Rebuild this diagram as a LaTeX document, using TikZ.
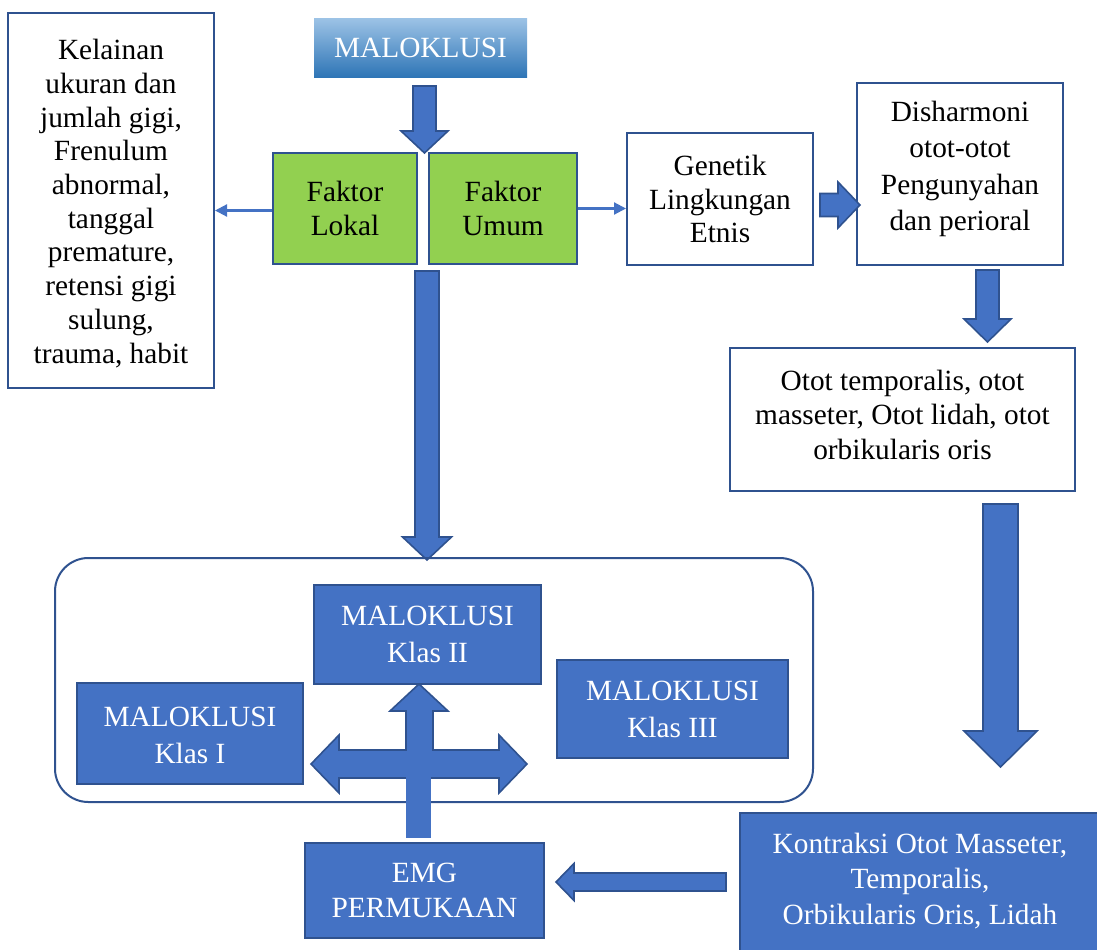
\documentclass[tikz,border=0pt]{standalone}
\usepackage{fontspec}
\setmainfont{Liberation Serif}
\usetikzlibrary{fit,arrows.meta}
\definecolor{bfill}{HTML}{4472C4}
\definecolor{bline}{HTML}{2F528F}
\definecolor{gfill}{HTML}{92D050}
\definecolor{gtop}{HTML}{9DC3E6}
\definecolor{gbot}{HTML}{2E75B6}
% vertical block arrow: x, ystart, ytip, shaft half, head half, head length (signed)
\newcommand\vblock[6]{\draw[barrow] (#1-#4,#2) -- (#1+#4,#2) -- (#1+#4,#3-#6) -- (#1+#5,#3-#6) -- (#1,#3) -- (#1-#5,#3-#6) -- (#1-#4,#3-#6) -- cycle;}
% horizontal block arrow: y, xstart, xtip, shaft half, head half, head length (signed)
\newcommand\hblock[6]{\draw[barrow] (#2,#1-#4) -- (#2,#1+#4) -- (#3-#6,#1+#4) -- (#3-#6,#1+#5) -- (#3,#1) -- (#3-#6,#1-#5) -- (#3-#6,#1-#4) -- cycle;}
\begin{document}
\begin{tikzpicture}[x=0.75pt,y=-0.75pt,
 shape box/.style={inner sep=0pt, line width=1.5pt},
 wbox/.style={shape box, draw=bline, fill=white},
 gbox/.style={shape box, draw=bline, fill=gfill},
 bbox/.style={shape box, draw=bline, fill=bfill},
 txt/.style={inner sep=0pt, align=center, font=\fontsize{22}{25.3}\selectfont},
 wtxt/.style={txt, text=white},
 barrow/.style={draw=bline, line width=1.2pt, fill=bfill, line join=miter},
 thinarrow/.style={draw=bfill, line width=1.6pt, -{Triangle[length=9pt,width=9pt]}}]
\useasboundingbox (0,0) rectangle (1097,950);

% top
\node[inner sep=0pt, top color=gtop, bottom color=gbot, fit={(314,18)(527,77)}] (mal) {};
\node[wtxt] (malt) at (mal.center) {MALOKLUSI};
\node[wbox, fit={(8,13)(214,388)}] (kel) {};
\node[txt, yshift=-2.2pt] (kelt) at (kel.center) {Kelainan\\ukuran dan\\jumlah gigi,\\Frenulum\\abnormal,\\tanggal\\premature,\\retensi gigi\\sulung,\\trauma, habit};
\node[gbox, fit={(273,153)(417,264)}] (lokal) {};
\node[txt] (lokalt) at (lokal.center) {Faktor\\Lokal};
\node[gbox, fit={(429,153)(577,264)}] (umum) {};
\node[txt] (umumt) at (umum.center) {Faktor\\Umum};
\node[wbox, fit={(627,133)(813,265)}] (gen) {};
\node[txt] (gent) at (gen.center) {Genetik\\Lingkungan\\Etnis};
\node[wbox, fit={(857,83)(1063,265)}] (dis) {};
\node[txt, yshift=3.7pt, font=\fontsize{22}{27.3}\selectfont] (dist) at (dis.center) {Disharmoni\\otot-otot\\Pengunyahan\\dan perioral};
\node[wbox, fit={(730,348)(1075,491)}] (otot) {};
\node[txt, yshift=3.7pt, font=\fontsize{22}{25.9}\selectfont] (ototxt) at (otot.center) {Otot temporalis, otot\\masseter, Otot lidah, otot\\orbikularis oris};

% thin connectors
\draw[thinarrow] ([yshift=-1.5pt]lokal.west) -- ([yshift=-1.5pt]kel.east |- lokal.west);
\draw[thinarrow] (umum.east) -- (gen.west |- umum.east);

% block arrows
\vblock{424.5}{86}{153}{11.5}{23.5}{22}
\hblock{205}{820}{860}{11.5}{23}{22}
\vblock{987.5}{270}{342}{11.5}{23.5}{23}
\vblock{1000.5}{504}{767}{17.5}{36.5}{36}
\vblock{427}{271}{560}{12}{24.5}{23}

% group
\node[draw=bline, line width=1.5pt, rounded corners=25pt, inner sep=0pt, fit={(55,558)(813,802)}] (grp) {};
\node[bbox, fit={(314,585)(541,684)}] (k2) {};
\node[wtxt, font=\fontsize{22}{27.7}\selectfont] (k2t) at (k2.center) {MALOKLUSI\\Klas II};
\node[bbox, fit={(77,683)(303,784)}] (k1) {};
\node[wtxt, yshift=-1.5pt, font=\fontsize{22}{27.7}\selectfont] (k1t) at (k1.center) {MALOKLUSI\\Klas I};
\node[bbox, fit={(557,660)(788,758)}] (k3) {};
\node[wtxt, font=\fontsize{22}{27.7}\selectfont] (k3t) at (k3.center) {MALOKLUSI\\Klas III};

% cross arrow
\draw[barrow] (419,684) -- (448,711) -- (433,711) -- (433,750) -- (499,750) -- (499,735) -- (527,764)
  -- (499,793) -- (499,778) -- (339,778) -- (339,793) -- (311,764) -- (339,735) -- (339,750)
  -- (406,750) -- (406,711) -- (390,711) -- cycle;
\fill[bfill] (406,764) rectangle (431,838);

% bottom
\node[bbox, fit={(305,843)(544,938)}] (emg) {};
\node[wtxt, font=\fontsize{22}{26}\selectfont] (emgt) at (emg.center) {EMG\\PERMUKAAN};
\node[bbox, fit={(740,813)(1110,975)}] (kon) {};
\node[wtxt, font=\fontsize{22}{26.6}\selectfont] (kont) at (920,881) {Kontraksi Otot Masseter,\\Temporalis,\\Orbikularis Oris, Lidah};
\hblock{882}{726}{556}{9}{18.5}{-18}
\end{tikzpicture}
\end{document}
